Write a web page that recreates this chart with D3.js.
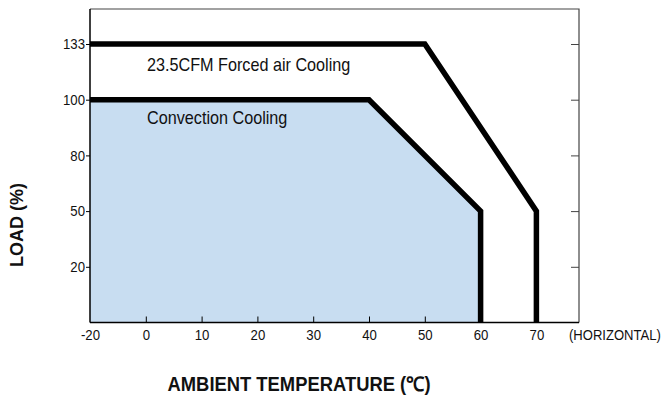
<!DOCTYPE html>
<html>
<head>
<meta charset="utf-8">
<script src="https://cdn.jsdelivr.net/npm/d3@7"></script>
<style>
  body { margin: 0; background: #fff; }
  svg { display: block; font-family: "Liberation Sans", Arial, sans-serif; }
</style>
</head>
<body>
<svg id="chart"></svg>
<script>
// tick values on each axis (axes are evenly spaced, not linear)
var xTicks = [-20, 0, 10, 20, 30, 40, 50, 60, 70];
var yTicks = [0, 20, 50, 80, 100, 133];

// derating curves: [temperature, load]
var forcedAir = [[-20, 133], [50, 133], [70, 50], [70, 0]];
var convection = [[-20, 100], [40, 100], [60, 50], [60, 0]];
var forcedLabel = "23.5CFM Forced air Cooling";
var convLabel = "Convection Cooling";

var svgWidth = 664, svgHeight = 400;
var plotLeft = 90, plotRight = 579, plotTop = 9, plotBottom = 322.5;
var xStep = 55.8, yStep = 55.7;
var squeeze = 0.91; // the original type is a bit narrower than Arial

var svg = d3.select("#chart")
    .attr("width", svgWidth)
    .attr("height", svgHeight);

// piecewise scales: one step per tick
var x = d3.scaleLinear()
    .domain(xTicks)
    .range(xTicks.map(function(d, i) { return plotLeft + i * xStep; }));
var y = d3.scaleLinear()
    .domain(yTicks)
    .range(yTicks.map(function(d, i) { return plotBottom - i * yStep; }));

var line = d3.line()
    .x(function(d) { return x(d[0]); })
    .y(function(d) { return y(d[1]); });

// convection area fill
var area = d3.area()
    .x(function(d) { return x(d[0]); })
    .y0(y(0))
    .y1(function(d) { return y(d[1]); });

svg.append("path")
    .datum(convection)
    .attr("fill", "#c8ddf1")
    .attr("d", area);

// frame: top and right
svg.append("path")
    .attr("d", "M" + plotLeft + "," + plotTop + "H" + plotRight + "V" + plotBottom)
    .attr("fill", "none")
    .attr("stroke", "#444")
    .attr("stroke-width", 1.2);

// bottom axis, ticks pointing up
var xAxis = svg.append("g")
    .attr("transform", "translate(0," + plotBottom + ")")
    .call(d3.axisBottom(x).tickValues(xTicks).tickSize(-6).tickPadding(7.5)
      .tickFormat(function(d) { return d + ""; }));
xAxis.select(".domain").attr("d", "M" + plotLeft + ",0H" + plotRight).attr("stroke-width", 1.5);
xAxis.selectAll(".tick").filter(function(d) { return d === -20; }).select("line").remove();
xAxis.selectAll("text")
    .attr("font-size", 14.5).attr("fill", "#111").attr("font-family", null)
    .attr("transform", "scale(" + squeeze + ",1)");

// left axis, ticks outward
var yAxis = svg.append("g")
    .attr("transform", "translate(" + plotLeft + ",0)")
    .call(d3.axisLeft(y).tickValues(yTicks.slice(1)).tickSize(4).tickPadding(1));
yAxis.select(".domain").attr("d", "M0," + plotTop + "V" + plotBottom).attr("stroke-width", 1.5);
yAxis.selectAll("text")
    .attr("font-size", 14.5).attr("fill", "#111").attr("font-family", null)
    .attr("x", -5 / squeeze)
    .attr("transform", "scale(" + squeeze + ",1)");

// right side inward ticks
svg.append("g")
    .attr("transform", "translate(" + plotRight + ",0)")
    .call(d3.axisLeft(y).tickValues(yTicks.slice(1)).tickSize(8).tickFormat(""))
    .call(function(g) { g.select(".domain").remove(); })
    .selectAll("line").attr("stroke", "#444");

// curves
[forcedAir, convection].forEach(function(d) {
  svg.append("path")
      .datum(d)
      .attr("fill", "none")
      .attr("stroke", "#000")
      .attr("stroke-width", 5.5)
      .attr("stroke-linejoin", "miter")
      .attr("d", line);
});

function label(px, py, str, size, sx, anchor, weight) {
  svg.append("text")
      .attr("transform", "translate(" + px + "," + py + ") scale(" + sx + ",1)")
      .attr("text-anchor", anchor || "start")
      .attr("font-size", size)
      .attr("font-weight", weight || "normal")
      .attr("fill", "#111")
      .text(str);
}

label(147, 71, forcedLabel, 18, 0.9);
label(147, 124, convLabel, 18, 0.9);
label(569, 340, "(HORIZONTAL)", 14.5, 0.9);
label(299, 391, "AMBIENT TEMPERATURE (℃)", 20, 0.92, "middle", "bold");

svg.append("text")
    .attr("transform", "translate(23,225) rotate(-90)")
    .attr("text-anchor", "middle")
    .attr("font-size", 18).attr("font-weight", "bold").attr("fill", "#111")
    .text("LOAD (%)");
</script>
</body>
</html>
